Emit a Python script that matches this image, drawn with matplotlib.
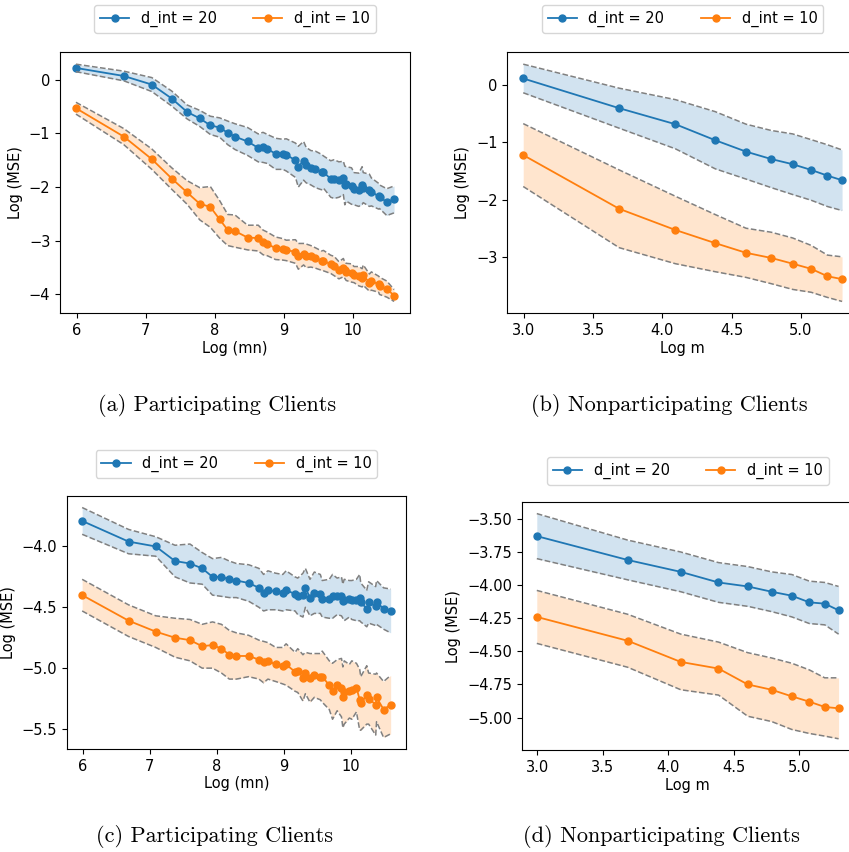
import numpy as np
import matplotlib
matplotlib.use("Agg")
import matplotlib.pyplot as plt
from matplotlib.ticker import MultipleLocator

# x values: products m*n for participating clients, m for nonparticipating
mn = [400, 800, 1200, 1600, 2000, 2400, 2800, 3200, 3600, 4000, 4800, 5600, 6000, 6400,
      7200, 8000, 8400, 9600, 10000, 10800, 11200, 12000, 12800, 14000, 14400, 16000,
      16800, 18000, 19200, 19600, 20000, 21600, 22400, 24000, 25200, 25600, 28000,
      28800, 32000, 32400, 36000, 40000]
m = [20, 40, 60, 80, 100, 120, 140, 160, 180, 200]

labels = ["d_int = 20", "d_int = 10"]
captions = ["(a) Participating Clients", "(b) Nonparticipating Clients",
            "(c) Participating Clients", "(d) Nonparticipating Clients"]

# (a) participating, mean and std of log MSE
a20 = [0.22, 0.07, -0.09, -0.35, -0.60, -0.72, -0.85, -0.89, -0.99, -1.06,
       -1.15, -1.27, -1.26, -1.29, -1.38, -1.39, -1.40, -1.50, -1.62, -1.51,
       -1.59, -1.64, -1.67, -1.72, -1.72, -1.85, -1.85, -1.86, -1.83, -1.97,
       -1.94, -1.98, -2.03, -2.05, -1.97, -2.01, -2.06, -2.09, -2.17, -2.18,
       -2.28, -2.23]
a20_sd = [0.07, 0.09, 0.13, 0.14, 0.13, 0.15, 0.17, 0.18, 0.22, 0.24,
          0.26, 0.26, 0.28, 0.27, 0.29, 0.28, 0.30, 0.32, 0.38, 0.36,
          0.33, 0.32, 0.34, 0.33, 0.30, 0.34, 0.36, 0.33, 0.31, 0.36,
          0.32, 0.34, 0.30, 0.31, 0.35, 0.28, 0.30, 0.26, 0.24, 0.22,
          0.25, 0.25]
a10 = [-0.53, -1.06, -1.48, -1.84, -2.10, -2.31, -2.37, -2.60, -2.80, -2.82,
       -2.94, -2.95, -3.03, -3.06, -3.14, -3.16, -3.18, -3.20, -3.29, -3.25,
       -3.28, -3.29, -3.32, -3.37, -3.37, -3.44, -3.47, -3.55, -3.50, -3.55,
       -3.58, -3.60, -3.63, -3.66, -3.69, -3.64, -3.78, -3.75, -3.81, -3.84,
       -3.90, -4.02]
a10_sd = [0.11, 0.15, 0.19, 0.20, 0.22, 0.30, 0.38, 0.35, 0.29, 0.30,
          0.23, 0.24, 0.23, 0.22, 0.21, 0.20, 0.19, 0.22, 0.24, 0.20,
          0.22, 0.20, 0.19, 0.18, 0.19, 0.17, 0.18, 0.16, 0.17, 0.15,
          0.16, 0.17, 0.15, 0.18, 0.17, 0.19, 0.16, 0.17, 0.15, 0.16,
          0.15, 0.11]

# (b) nonparticipating
b20 = [0.12, -0.40, -0.68, -0.96, -1.16, -1.29, -1.38, -1.48, -1.58, -1.66]
b20_sd = [0.25, 0.35, 0.43, 0.50, 0.48, 0.50, 0.53, 0.53, 0.54, 0.53]
b10 = [-1.22, -2.16, -2.53, -2.76, -2.93, -3.02, -3.12, -3.21, -3.34, -3.39]
b10_sd = [0.55, 0.68, 0.59, 0.50, 0.43, 0.45, 0.45, 0.41, 0.37, 0.39]

# (c) participating
c20 = [-3.79, -3.96, -4.00, -4.12, -4.14, -4.18, -4.25, -4.25, -4.27, -4.28,
       -4.30, -4.34, -4.38, -4.36, -4.37, -4.38, -4.36, -4.39, -4.41, -4.40,
       -4.34, -4.42, -4.38, -4.39, -4.43, -4.43, -4.41, -4.41, -4.41, -4.45,
       -4.44, -4.43, -4.44, -4.44, -4.42, -4.46, -4.51, -4.46, -4.49, -4.46,
       -4.51, -4.53]
c20_sd = [0.11, 0.10, 0.08, 0.13, 0.16, 0.13, 0.15, 0.16, 0.15, 0.14,
          0.15, 0.16, 0.15, 0.16, 0.15, 0.15, 0.16, 0.14, 0.15, 0.18,
          0.16, 0.15, 0.17, 0.16, 0.15, 0.16, 0.18, 0.15, 0.16, 0.14,
          0.17, 0.15, 0.16, 0.17, 0.19, 0.16, 0.15, 0.17, 0.16, 0.18,
          0.17, 0.18]
c10 = [-4.40, -4.61, -4.70, -4.75, -4.77, -4.82, -4.81, -4.84, -4.89, -4.90,
       -4.90, -4.93, -4.95, -4.94, -4.97, -4.98, -4.97, -5.03, -5.02, -5.08,
       -5.04, -5.08, -5.06, -5.07, -5.07, -5.14, -5.19, -5.14, -5.16, -5.24,
       -5.20, -5.19, -5.18, -5.16, -5.26, -5.29, -5.22, -5.25, -5.30, -5.24,
       -5.34, -5.30]
c10_sd = [0.13, 0.13, 0.13, 0.16, 0.17, 0.18, 0.19, 0.20, 0.20, 0.19,
          0.17, 0.16, 0.17, 0.15, 0.14, 0.15, 0.17, 0.16, 0.18, 0.19,
          0.17, 0.20, 0.18, 0.19, 0.21, 0.20, 0.23, 0.21, 0.24, 0.25,
          0.26, 0.22, 0.24, 0.20, 0.25, 0.22, 0.24, 0.21, 0.25, 0.20,
          0.23, 0.24]

# (d) nonparticipating
d20 = [-3.63, -3.81, -3.90, -3.98, -4.01, -4.05, -4.08, -4.13, -4.14, -4.19]
d20_sd = [0.17, 0.15, 0.15, 0.15, 0.15, 0.15, 0.16, 0.16, 0.16, 0.18]
d10 = [-4.24, -4.42, -4.58, -4.63, -4.75, -4.79, -4.84, -4.88, -4.92, -4.93]
d10_sd = [0.20, 0.20, 0.21, 0.20, 0.24, 0.24, 0.25, 0.24, 0.22, 0.23]

FS = 10.5


def panel(ax, x, series, xlabel):
    for (mean, sd), col, lab in zip(series, ["C0", "C1"], labels):
        mean = np.array(mean)
        sd = np.array(sd)
        ax.plot(x, mean, "-o", color=col, markersize=5, linewidth=1.3, label=lab)
        ax.fill_between(x, mean - sd, mean + sd, color=col, alpha=0.2, linewidth=0)
        ax.plot(x, mean + sd, "--", color="gray", linewidth=1.1)
        ax.plot(x, mean - sd, "--", color="gray", linewidth=1.1)
    ax.set_xlabel(xlabel, fontsize=FS, labelpad=2)
    ax.set_ylabel("Log (MSE)", fontsize=FS)
    ax.tick_params(labelsize=FS)


fig = plt.figure(figsize=(8.49, 8.52), dpi=100)

logmn = np.log(mn)
logm = np.log(m)

ax_a = fig.add_axes([0.0707, 0.6323, 0.4122, 0.3063])
panel(ax_a, logmn, [(a20, a20_sd), (a10, a10_sd)], "Log (mn)")
ax_b = fig.add_axes([0.5975, 0.6323, 0.4131, 0.3063])
panel(ax_b, logm, [(b20, b20_sd), (b10, b10_sd)], "Log m")
ax_c = fig.add_axes([0.0786, 0.1209, 0.3997, 0.2969])
panel(ax_c, logmn, [(c20, c20_sd), (c10, c10_sd)], "Log (mn)")
ax_c.yaxis.set_major_locator(MultipleLocator(0.5))
ax_d = fig.add_axes([0.6145, 0.1197, 0.391, 0.2907])
panel(ax_d, logm, [(d20, d20_sd), (d10, d10_sd)], "Log m")

for ax, gap in [(ax_a, 0.045), (ax_b, 0.045), (ax_c, 0.042), (ax_d, 0.042)]:
    ax.legend(loc="lower center", bbox_to_anchor=(0.5, 1 + gap), ncol=2,
              fontsize=FS, columnspacing=2.5)

cap_pos = [(217, 405.7), (669, 405.7), (214, 837), (661, 837)]
for txt, (px, py) in zip(captions, cap_pos):
    fig.text(px / 849, 1 - py / 852, txt, ha="center", va="center",
             fontsize=16, family="cmr10")

fig.savefig("out.png", dpi=100)
